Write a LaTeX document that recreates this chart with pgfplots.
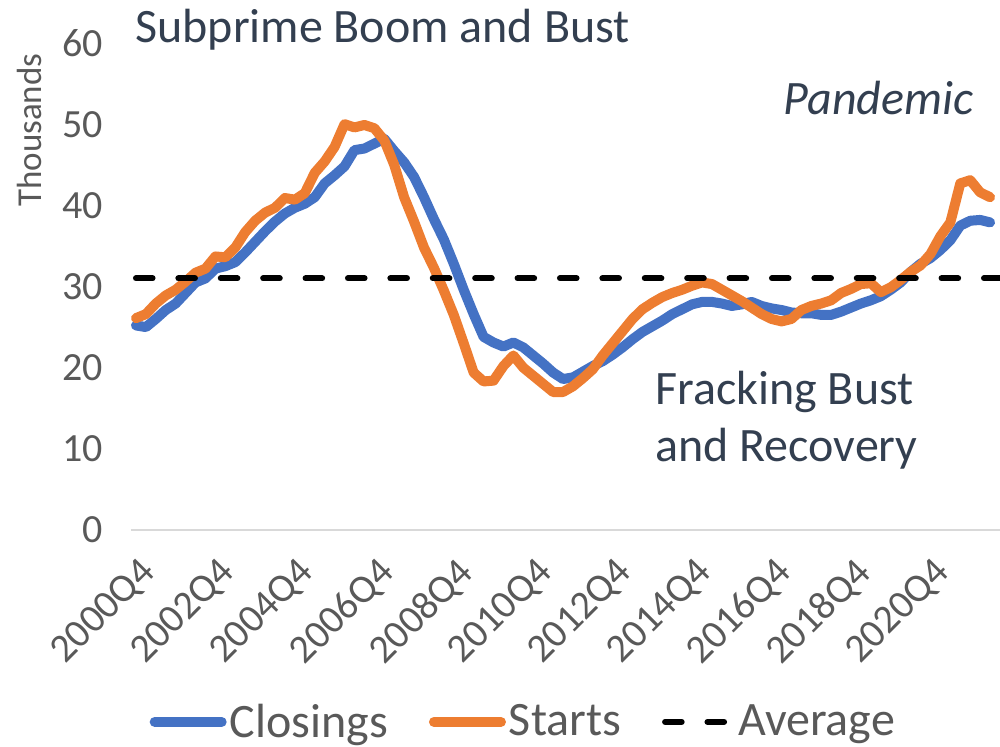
\documentclass[border=0pt]{standalone}
\usepackage{fontspec}
\setmainfont{Carlito}
\usepackage{pgfplots}
\usepackage{pgfplotstable}
\pgfplotsset{compat=1.18}
\definecolor{cBlue}{HTML}{4472C4}
\definecolor{cOrange}{HTML}{ED7D31}
\definecolor{cTick}{HTML}{595959}
\definecolor{cNote}{HTML}{333F50}
\definecolor{cGrid}{HTML}{D9D9D9}

\pgfplotstableread{
i clo sta
0 25.2 26.1
1 25.0 26.6
2 26.0 27.9
3 27.1 28.9
4 27.9 29.6
5 29.2 30.6
6 30.5 31.7
7 31.0 32.2
8 32.2 33.7
9 32.5 33.6
10 33.0 34.8
11 34.2 36.7
12 35.5 38.1
13 36.8 39.1
14 38.0 39.7
15 39.0 40.9
16 39.7 40.7
17 40.2 41.5
18 41.0 44.0
19 42.7 45.4
20 43.7 47.2
21 44.8 50.0
22 46.8 49.6
23 47.0 49.9
24 47.6 49.5
25 48.2 48.0
26 46.7 45.0
27 45.3 41.0
28 43.5 38.0
29 41.0 34.8
30 38.3 32.3
31 35.8 29.5
32 32.8 26.5
33 29.6 23.0
34 26.6 19.4
35 23.8 18.3
36 23.1 18.4
37 22.6 20.2
38 23.1 21.5
39 22.5 20.0
40 21.5 19.0
41 20.5 18.0
42 19.4 17.0
43 18.6 17.0
44 18.8 17.7
45 19.5 18.7
46 20.2 19.8
47 20.8 21.5
48 21.6 23.0
49 22.5 24.5
50 23.5 26.0
51 24.4 27.2
52 25.1 28.0
53 25.8 28.7
54 26.6 29.2
55 27.2 29.6
56 27.8 30.1
57 28.1 30.5
58 28.1 30.3
59 27.9 29.6
60 27.6 28.9
61 27.8 28.2
62 28.1 27.4
63 27.6 26.6
64 27.3 26.0
65 27.1 25.7
66 26.8 26.0
67 26.7 27.1
68 26.7 27.6
69 26.5 27.9
70 26.5 28.3
71 26.9 29.2
72 27.4 29.7
73 27.9 30.3
74 28.3 30.4
75 28.8 29.3
76 29.6 29.9
77 30.5 30.8
78 31.8 31.8
79 32.8 32.6
80 33.5 34.0
81 34.5 36.2
82 35.7 37.9
83 37.5 42.7
84 38.1 43.1
85 38.2 41.6
86 37.9 41.0
}\datatable

\begin{document}
\begin{tikzpicture}
\useasboundingbox (0,0) rectangle (500pt,373.5pt);
\begin{axis}[
  at={(65.5pt,108.5pt)}, anchor=south west,
  scale only axis, width=434.5pt, height=243.5pt,
  xmin=-0.5, xmax=87, ymin=0, ymax=60,
  clip=false,
  axis x line*=bottom, axis y line*=left,
  x axis line style={draw=cGrid, line width=1pt},
  y axis line style={draw=none},
  major tick length=0pt, tick style={draw=none},
  ytick={0,10,20,30,40,50,60},
  xtick={0,8,16,24,32,40,48,56,64,72,80},
  xticklabels={2000Q4,2002Q4,2004Q4,2006Q4,2008Q4,2010Q4,2012Q4,2014Q4,2016Q4,2018Q4,2020Q4},
  ticklabel style={font=\fontsize{20}{24}\selectfont, text=cTick},
  /pgf/number format/assume math mode=true,
  yticklabel style={anchor=east, inner sep=0pt, xshift=-14pt},
  xticklabel style={inner sep=0pt, xshift=1pt, yshift=-12.5pt, rotate=45, anchor=north east},
  legend columns=3,
  legend style={at={(0.452,-0.394)}, anchor=center, draw=none, fill=none,
    font=\fontsize{24}{28}\selectfont, text=cTick, inner sep=0pt,
    nodes={inner xsep=1.5pt, inner ysep=0pt},
    /tikz/every even column/.append style={column sep=19pt}},
  legend image code/.code={\draw[#1] (1pt,0pt) -- (34.5pt,0pt);},
]
\addplot[cBlue, line width=5pt, line join=round, line cap=round] table[x=i, y=clo] {\datatable};
\addlegendentry{Closings}
\addplot[cOrange, line width=5pt, line join=round, line cap=round] table[x=i, y=sta] {\datatable};
\addlegendentry{Starts}
\addplot[black, line width=3pt, line cap=round, dash pattern=on 8.3pt off 12.9pt] coordinates {(0,31) (87,31)};
\addlegendentry{Average}
\node[rotate=90, anchor=base, font=\fontsize{17.5}{21}\selectfont, text=cTick] at (rel axis cs:-0.1034,0.821) {Thousands};
\end{axis}
\node[anchor=base west, font=\fontsize{24}{28}\selectfont, text=cNote, inner sep=0pt] at (67.5pt,352pt) {Subprime Boom and Bust};
\node[anchor=base west, font=\fontsize{24}{28}\selectfont\itshape, text=cNote, inner sep=0pt] at (391.5pt,316pt) {Pandemic};
\node[anchor=base west, font=\fontsize{24}{28}\selectfont, text=cNote, inner sep=0pt] at (327.5pt,171pt) {Fracking Bust};
\node[anchor=base west, font=\fontsize{24}{28}\selectfont, text=cNote, inner sep=0pt] at (327.5pt,142.5pt) {and Recovery};
\end{tikzpicture}
\end{document}
